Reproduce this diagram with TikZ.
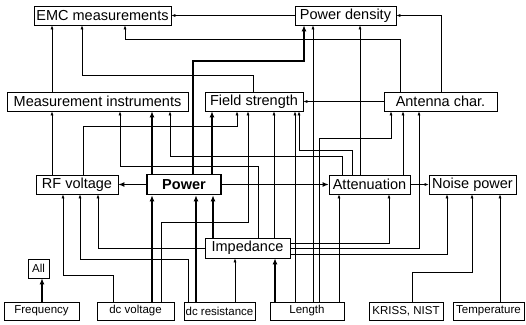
\documentclass[tikz,border=0pt]{standalone}
\usepackage{fontspec}
\setmainfont{Liberation Sans}
\usetikzlibrary{arrows.meta}
\begin{document}
\begin{tikzpicture}[x=1pt,y=-1pt,
  box/.style={draw, line width=0.6pt, inner sep=0pt, minimum height=19pt, font=\fontsize{14.5}{16}\selectfont},
  sbox/.style={draw, line width=0.6pt, inner sep=0pt, minimum height=18pt, font=\fontsize{11.5}{13}\selectfont},
  arr/.style={line width=0.6pt, -{Latex[length=4pt,width=3pt]}},
  tarr/.style={line width=1.8pt, -{Latex[length=6pt,width=5pt]}}]
\fill[white] (0,0) rectangle (526,324);
\useasboundingbox (0,0) rectangle (526,324);
% nodes
\node[box, minimum width=137pt] (emc) at (102.5,15.5) {EMC measurements};
\node[box, minimum width=101pt] (pd) at (345.5,15.5) {Power density};
\node[box, minimum width=181pt] (mi) at (97.5,101.5) {Measurement instruments};
\node[box, minimum width=98pt] (fs) at (254,101.5) {Field strength};
\node[box, minimum width=113pt] (ac) at (440.5,101.5) {Antenna char.};
\node[box, minimum width=82pt] (rf) at (77,184.5) {RF voltage};
\node[box, minimum width=74pt, minimum height=20pt, line width=1.6pt, font=\fontsize{14.5}{16}\selectfont\bfseries] (pw) at (184,184.5) {Power};
\node[box, minimum width=81pt] (at) at (369.5,184.5) {Attenuation};
\node[box, minimum width=87pt] (np) at (472.5,184.5) {Noise power};
\node[box, minimum width=85pt, minimum height=20pt] (im) at (247.5,248) {Impedance};
\node[sbox, minimum width=21pt, minimum height=19pt] (all) at (38.5,268.5) {All};
\node[sbox, minimum width=75pt] (fr) at (41.5,311) {Frequency};
\node[sbox, minimum width=77pt] (dv) at (135.5,311) {dc voltage};
\node[sbox, minimum width=71pt] (dr) at (219.5,311) {dc resistance};
\node[sbox, minimum width=74pt] (ln) at (307,311) {Length};
\node[sbox, minimum width=74pt] (kn) at (406,311) {KRISS, NIST};
\node[sbox, minimum width=71pt] (tp) at (488.5,311) {Temperature};
% top connectors
\draw[arr] (pd.west) -- (emc.east);
\draw[arr] (ac.north -| 400,0) |- (125,39) -- (emc.south -| 125,0);
\draw[arr] (mi.north -| 52,0) -- (emc.south -| 52,0);
\draw[arr] (fs.north -| 253,0) |- (82,75) -- (emc.south -| 82,0);
\draw[tarr] (pw.north -| 193,0) |- (304,61) -- (pd.south -| 304,0);
\draw[arr] (ln.north -| 313,0) -- (pd.south -| 313,0);
\draw[arr] (at.north -| 360,0) -- (pd.south -| 360,0);
\draw[arr] (ac.north -| 441,0) |- (pd.east);
\draw[arr] (ac.west) -- (fs.east);
% middle row
\draw[tarr] (pw.west) -- (rf.east);
\draw[tarr] (pw.east) -- (at.west);
\draw[arr] (at.east) -- (np.west);
% into measurement instruments
\draw[arr] (rf.north -| 52,0) -- (mi.south -| 52,0);
\draw[tarr] (pw.north -| 152,0) -- (mi.south -| 152,0);
\draw[arr] (at.north -| 342,0) |- (170,156) -- (mi.south -| 170,0);
\draw[arr] (im.north -| 258,0) |- (120,166) -- (mi.south -| 120,0);
% into field strength
\draw[arr] (rf.north -| 83,0) |- (237,126) -- (fs.south -| 237,0);
\draw[tarr] (pw.north -| 212,0) -- (fs.south -| 212,0);
\draw[arr] (dv.north -| 161,0) |- (248,222) -- (fs.south -| 248,0);
\draw[arr] (im.north -| 274,0) -- (fs.south -| 274,0);
\draw[arr] (ln.north -| 295,0) -- (fs.south -| 295,0);
\draw[arr] (at.north -| 352,0) |- (299,150) -- (fs.south -| 299,0);
% into antenna char.
\draw[arr] (ln.north -| 319,0) |- (391,138) -- (ac.south -| 391,0);
\draw[arr] (at.north -| 403,0) -- (ac.south -| 403,0);
\draw[arr] (im.east |- 0,248) -| (ac.south -| 419,0);
% into attenuation / noise power
\draw[arr] (im.east |- 0,243) -| (at.south -| 389,0);
\draw[arr] (ln.north -| 339,0) -- (at.south -| 339,0);
\draw[arr] (im.east |- 0,254) -| (np.south -| 447,0);
\draw[arr] (kn.north -| 412,0) |- (472,272) -- (np.south -| 472,0);
\draw[arr] (tp.north -| 500,0) -- (np.south -| 500,0);
% into RF voltage
\draw[arr] (dv.north -| 113,0) |- (63,275) -- (rf.south -| 63,0);
\draw[arr] (dr.north -| 188,0) |- (80,259) -- (rf.south -| 80,0);
\draw[arr] (im.west) -| (rf.south -| 98,0);
% into power and impedance
\draw[tarr] (dv.north -| 152,0) -- (pw.south -| 152,0);
\draw[tarr] (dr.north -| 196,0) -- (pw.south -| 196,0);
\draw[tarr] (im.north -| 213,0) -- (pw.south -| 213,0);
\draw[arr] (dr.north -| 235,0) -- (im.south -| 235,0);
\draw[tarr] (ln.north -| 275,0) -- (im.south -| 275,0);
\draw[tarr] (fr.north -| 42,0) -- (all.south -| 42,0);
\end{tikzpicture}
\end{document}
